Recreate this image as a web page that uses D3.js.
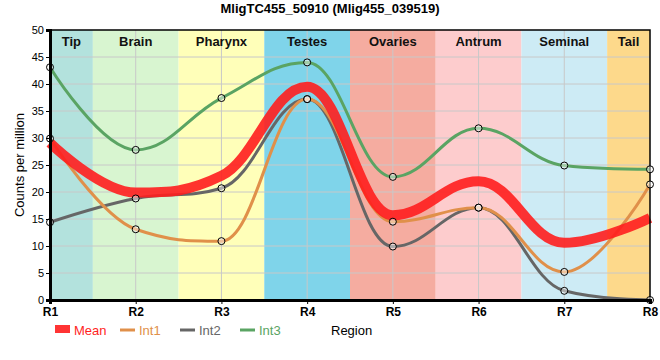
<!DOCTYPE html>
<html><head><meta charset="utf-8">
<script src="https://d3js.org/d3.v7.min.js"></script>
<style>body{margin:0;background:#fff}svg{display:block;font-family:"Liberation Sans",Arial,sans-serif}</style>
</head><body><svg id="c" width="660" height="360"></svg>
<script>
const regions = ["R1","R2","R3","R4","R5","R6","R7","R8"];
const int1 = [29.9, 13.1, 10.9, 37.2, 14.5, 17.1, 5.2, 21.4];
const int2 = [14.4, 18.8, 20.7, 37.2, 9.9, 17.1, 1.7, 0.0];
const int3 = [43.1, 27.8, 37.4, 44.0, 22.8, 31.8, 24.9, 24.2];
const meanVals = [29.1, 19.9, 23.0, 39.5, 15.7, 22.0, 10.6, 15.2];
const bandNames = ["Tip","Brain","Pharynx","Testes","Ovaries","Antrum","Seminal","Tail"];
const bandStart = [1, 1.5, 2.5, 3.5, 4.5, 5.5, 6.5, 7.5];
const bandEnd = [1.5, 2.5, 3.5, 4.5, 5.5, 6.5, 7.5, 8];
const bandColors = ["#b3e2dd","#d8f5d0","#ffffb9","#7fd4ea","#f5aca0","#fdcccd","#cdebf5","#fdd98b"];
const yTicks = [0,5,10,15,20,25,30,35,40,45,50];

// custom d3 curve: smoothed spline (control points at 40% with collinear tangents, no false extremes)
function SplineCurve(context){ this._context = context; }
SplineCurve.prototype = {
  areaStart(){}, areaEnd(){},
  lineStart(){ this._pts = []; },
  point(x,y){ this._pts.push([+x,+y]); },
  lineEnd(){
    const p = this._pts, n = p.length, ctx = this._context, s = 1.5, den = s + 1;
    if(!n) return;
    const lc = [], rc = [];
    for(let i=1;i<n-1;i++){
      const [px,py]=p[i],[lx,ly]=p[i-1],[nx,ny]=p[i+1];
      let lcx=(s*px+lx)/den, lcy=(s*py+ly)/den, rcx=(s*px+nx)/den, rcy=(s*py+ny)/den, cor=0;
      if(rcx!==lcx) cor=((rcy-lcy)*(rcx-px))/(rcx-lcx)+py-rcy;
      lcy+=cor; rcy+=cor;
      if(lcy>ly&&lcy>py){lcy=Math.max(ly,py);rcy=2*py-lcy;}
      else if(lcy<ly&&lcy<py){lcy=Math.min(ly,py);rcy=2*py-lcy;}
      if(rcy>ny&&rcy>py){rcy=Math.max(ny,py);lcy=2*py-rcy;}
      else if(rcy<ny&&rcy<py){rcy=Math.min(ny,py);lcy=2*py-rcy;}
      lc[i]=[lcx,lcy]; rc[i]=[rcx,rcy];
    }
    ctx.moveTo(p[0][0],p[0][1]);
    for(let i=1;i<n;i++){
      const a = rc[i-1]||p[i-1], b = lc[i]||p[i];
      ctx.bezierCurveTo(a[0],a[1],b[0],b[1],p[i][0],p[i][1]);
    }
  }
};
const curveSpline = ctx => new SplineCurve(ctx);

const svg = d3.select("#c");
const L=50, R=650, T=30, B=300;
const x = d3.scaleLinear().domain([1,8]).range([L,R]);
const y = d3.scaleLinear().domain([0,50]).range([B,T]);

// bands
svg.selectAll("rect.band").data(bandNames).join("rect")
  .attr("x",(d,i)=>x(bandStart[i])).attr("width",(d,i)=>x(bandEnd[i])-x(bandStart[i]))
  .attr("y",T).attr("height",B-T).attr("fill",(d,i)=>bandColors[i]);

// grid
svg.append("g").selectAll("line").data(yTicks.slice(1,-1)).join("line")
  .attr("x1",L).attr("x2",R).attr("y1",d=>y(d)).attr("y2",d=>y(d))
  .attr("stroke","#c8c8c8").attr("stroke-width",1);
svg.append("g").selectAll("line").data(regions.slice(1,-1)).join("line")
  .attr("y1",T).attr("y2",B).attr("x1",(d,i)=>x(i+2)).attr("x2",(d,i)=>x(i+2))
  .attr("stroke","#c8c8c8").attr("stroke-width",1);

// band labels
svg.selectAll("text.band").data(bandNames).join("text")
  .attr("x",(d,i)=>(x(bandStart[i])+x(bandEnd[i]))/2).attr("y",T+16)
  .attr("text-anchor","middle").attr("font-size","13px").attr("font-weight","bold")
  .attr("fill","#111").text(d=>d);

const line = d3.line().x((d,i)=>x(i+1)).y(d=>y(d)).curve(curveSpline);
const series = [
  {name:"Mean", v:meanVals, c:"#ff1e1e", w:10, op:0.9},
  {name:"Int1", v:int1, c:"#e0904a", w:3, op:1},
  {name:"Int2", v:int2, c:"#666666", w:3, op:1},
  {name:"Int3", v:int3, c:"#5aa463", w:3, op:1}
];
const g = svg.append("g");
[series[2],series[1],series[3],series[0]].forEach(s=>{
  g.append("path").attr("d",line(s.v)).attr("fill","none").attr("stroke",s.c)
   .attr("stroke-width",s.w).attr("stroke-opacity",s.op);
});
// frame
svg.append("rect").attr("x",L).attr("y",T).attr("width",R-L).attr("height",B-T)
  .attr("fill","none").attr("stroke","#000").attr("stroke-width",1.5);

// points
[int1,int2,int3].forEach(v=>{
  svg.append("g").selectAll("circle").data(v).join("circle")
    .attr("cx",(d,i)=>x(i+1)).attr("cy",d=>y(d)).attr("r",3.5)
    .attr("fill","rgba(255,255,255,0.45)").attr("stroke","#000").attr("stroke-width",1);
});

// axes
const ya = svg.append("g").attr("transform",`translate(${L},0)`)
  .call(d3.axisLeft(y).tickValues(yTicks).tickSize(4).tickPadding(2));
ya.select(".domain").attr("stroke-width",3);
ya.selectAll("text").attr("font-size","11px").attr("fill","#000").attr("font-family","'Liberation Sans',Arial,sans-serif");
const xa = svg.append("g").attr("transform",`translate(0,${B})`)
  .call(d3.axisBottom(x).tickValues([1,2,3,4,5,6,7,8]).tickFormat((d,i)=>regions[i]).tickSize(4).tickPadding(3));
xa.select(".domain").attr("stroke-width",3);
xa.selectAll("text").attr("font-size","12px").attr("font-weight","bold").attr("fill","#000").attr("font-family","'Liberation Sans',Arial,sans-serif");

// title
svg.append("text").attr("x",330).attr("y",13).attr("text-anchor","middle")
  .attr("font-size","13px").attr("font-weight","bold").text("MligTC455_50910 (Mlig455_039519)");
// y label
svg.append("text").attr("transform","translate(24,165) rotate(-90)").attr("text-anchor","middle")
  .attr("font-size","13px").text("Counts per million");
svg.append("text").attr("x",331).attr("y",335).attr("font-size","13px").text("Region");

// legend
const lg = svg.append("g");
const lx = [55,120,180,240];
series.forEach((s,i)=>{
  if(i===0) lg.append("rect").attr("x",lx[i]).attr("y",325).attr("width",15).attr("height",8).attr("fill",s.c).attr("opacity",0.9);
  else lg.append("line").attr("x1",lx[i]).attr("x2",lx[i]+15).attr("y1",330).attr("y2",330).attr("stroke",s.c).attr("stroke-width",3);
  lg.append("text").attr("x",lx[i]+19).attr("y",335).attr("font-size","13px").attr("fill",s.c).text(s.name);
});
</script></body></html>
